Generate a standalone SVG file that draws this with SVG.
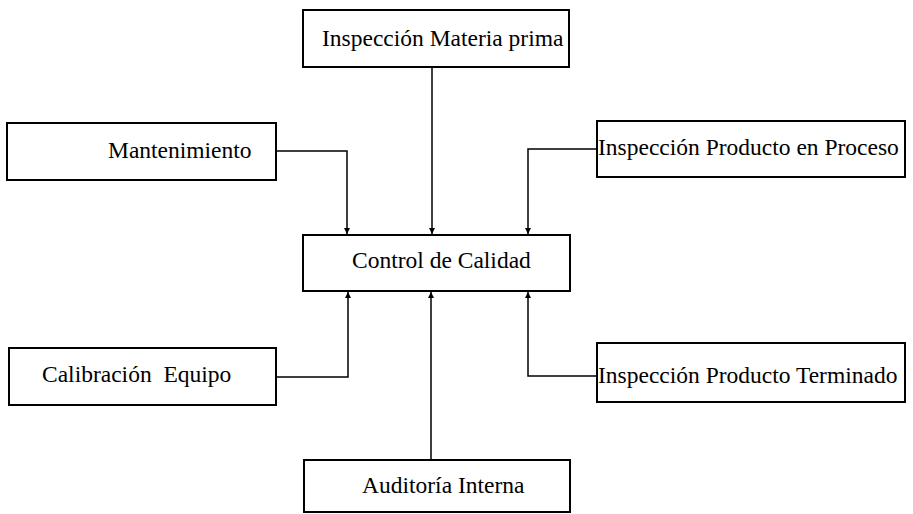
<svg xmlns="http://www.w3.org/2000/svg" width="913" height="514" viewBox="0 0 913 514">
<style>
.box{fill:#fff;stroke:#000;stroke-width:2}
.lbl{font-family:"Liberation Serif","Times New Roman",serif;font-size:23.5px;fill:#000;white-space:pre}
.con{fill:none;stroke:#000;stroke-width:1.5}
</style>
<defs>
<marker id="arr" viewBox="0 0 10 10" refX="10" refY="5" markerWidth="6" markerHeight="6" markerUnits="userSpaceOnUse" orient="auto">
<path d="M0,0 L10,5 L0,10 z" fill="#000"/>
</marker>
</defs>
<rect width="913" height="514" fill="#fff"/>
<g id="connectors">
<path class="con" d="M432,67 V234" marker-end="url(#arr)"/>
<path class="con" d="M276,151 H347 V234" marker-end="url(#arr)"/>
<path class="con" d="M597,149 H528 V234" marker-end="url(#arr)"/>
<path class="con" d="M276,377 H348 V292" marker-end="url(#arr)"/>
<path class="con" d="M431,460 V292" marker-end="url(#arr)"/>
<path class="con" d="M597,376 H528 V292" marker-end="url(#arr)"/>
</g>
<g id="materia">
<rect class="box" x="303" y="10" width="266" height="57"/>
<text class="lbl" x="322" y="46">Inspección Materia prima</text>
</g>
<g id="mantenimiento">
<rect class="box" x="7" y="123" width="269" height="57"/>
<text class="lbl" x="108" y="158">Mantenimiento</text>
</g>
<g id="proceso">
<rect class="box" x="597" y="121" width="308" height="56"/>
<text class="lbl" x="598" y="155">Inspección Producto en Proceso</text>
</g>
<g id="control">
<rect class="box" x="303" y="235" width="267" height="56"/>
<text class="lbl" x="352" y="268">Control de Calidad</text>
</g>
<g id="calibracion">
<rect class="box" x="9" y="348" width="267" height="57"/>
<text class="lbl" x="42" y="382">Calibración  Equipo</text>
</g>
<g id="terminado">
<rect class="box" x="597" y="343" width="308" height="59"/>
<text class="lbl" x="598" y="383">Inspección Producto Terminado</text>
</g>
<g id="auditoria">
<rect class="box" x="304" y="460" width="266" height="52"/>
<text class="lbl" x="362" y="493">Auditoría Interna</text>
</g>
</svg>
